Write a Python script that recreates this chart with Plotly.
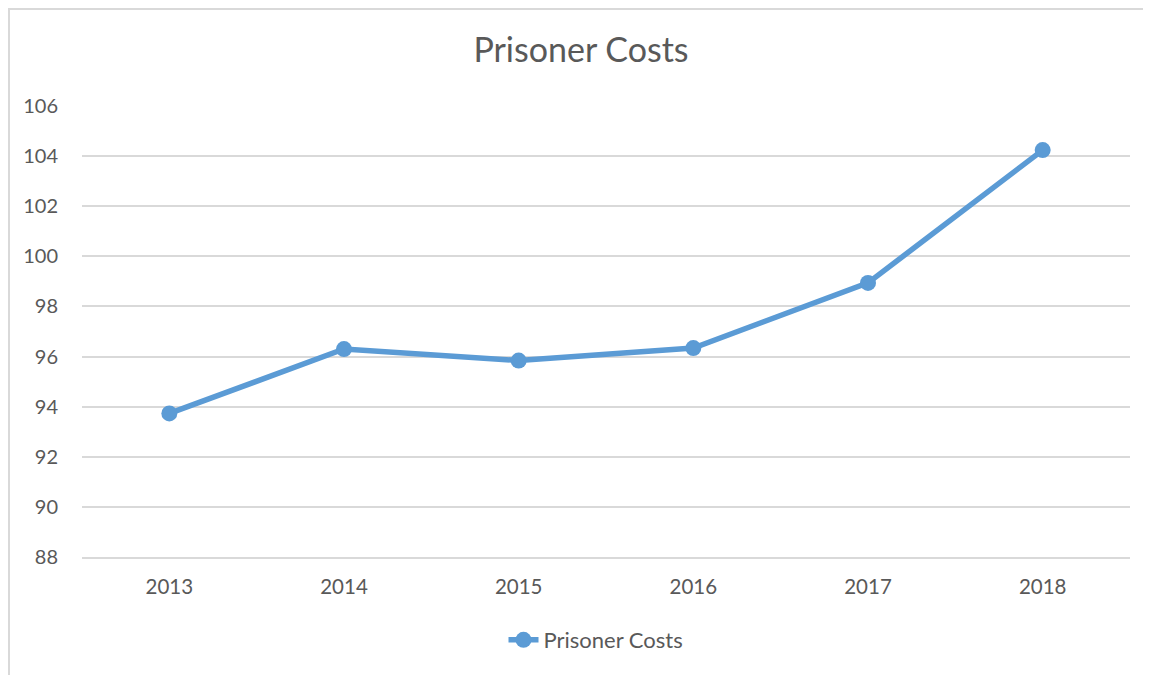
import plotly.graph_objects as go

years = ["2013", "2014", "2015", "2016", "2017", "2018"]
costs = [93.73, 96.30, 95.84, 96.34, 98.94, 104.24]
series_name = "Prisoner Costs"
title_text = "Prisoner Costs"
y_ticks = [88, 90, 92, 94, 96, 98, 100, 102, 104, 106]

OFF = 8  # page body margin
W, H = 1151 - OFF, 675 - OFF
# target plot area in screenshot coords: x 82..1130, y 106..557
L, T = 82 - OFF, 106 - OFF
R, B = W - (1130 - OFF), H - (557 - OFF)
pw, ph = W - L - R, H - T - B

FONT = "Lato"
TXT = "#595959"
GRID = "#D9D9D9"
BLUE = "#5B9BD5"

def py(screen_y):
    return (ph - (screen_y - OFF - T)) / ph

def px(screen_x):
    return (screen_x - OFF - L) / pw

border_path = "M {x0},{yb} L {x0},{yt} L {x1},{yt}".format(
    x0=px(9), yb=py(OFF + H), yt=py(9), x1=px(OFF + W))

fig = go.Figure()
fig.add_trace(go.Scatter(
    x=years, y=costs, name=series_name, mode="lines+markers",
    line=dict(color=BLUE, width=5.5),
    marker=dict(color=BLUE, size=16),
))

fig.update_layout(
    width=W, height=H,
    margin=dict(l=L, r=R, t=T, b=B, pad=0),
    paper_bgcolor="white", plot_bgcolor="white",
    font=dict(family=FONT, color=TXT, size=20),
    title=dict(text=title_text, x=(581 - OFF) / W, xanchor="center", y=1 - (50 - OFF) / H, yanchor="middle",
               font=dict(family=FONT, size=34, color=TXT)),
    showlegend=True,
    legend=dict(orientation="h", x=px(596), xanchor="center", y=py(640), yanchor="middle",
                font=dict(family=FONT, size=22, color=TXT)),
    xaxis=dict(type="category", range=[-0.5, 5.5], showgrid=False, showline=True,
               linecolor=GRID, linewidth=1.5, ticks="outside", ticklen=11, tickcolor="rgba(0,0,0,0)",
               tickfont=dict(family=FONT, size=20.5, color=TXT), zeroline=False),
    yaxis=dict(range=[88, 106], tickvals=y_ticks, showgrid=True, gridcolor=GRID, gridwidth=1.5,
               showline=False, zeroline=False, ticks="outside", ticklen=19, tickcolor="rgba(0,0,0,0)",
               tickfont=dict(family=FONT, size=20, color=TXT)),
    shapes=[dict(type="path", xref="paper", yref="paper", path=border_path,
                 line=dict(color=GRID, width=2), layer="below")],
)

fig.write_html("out.html")
